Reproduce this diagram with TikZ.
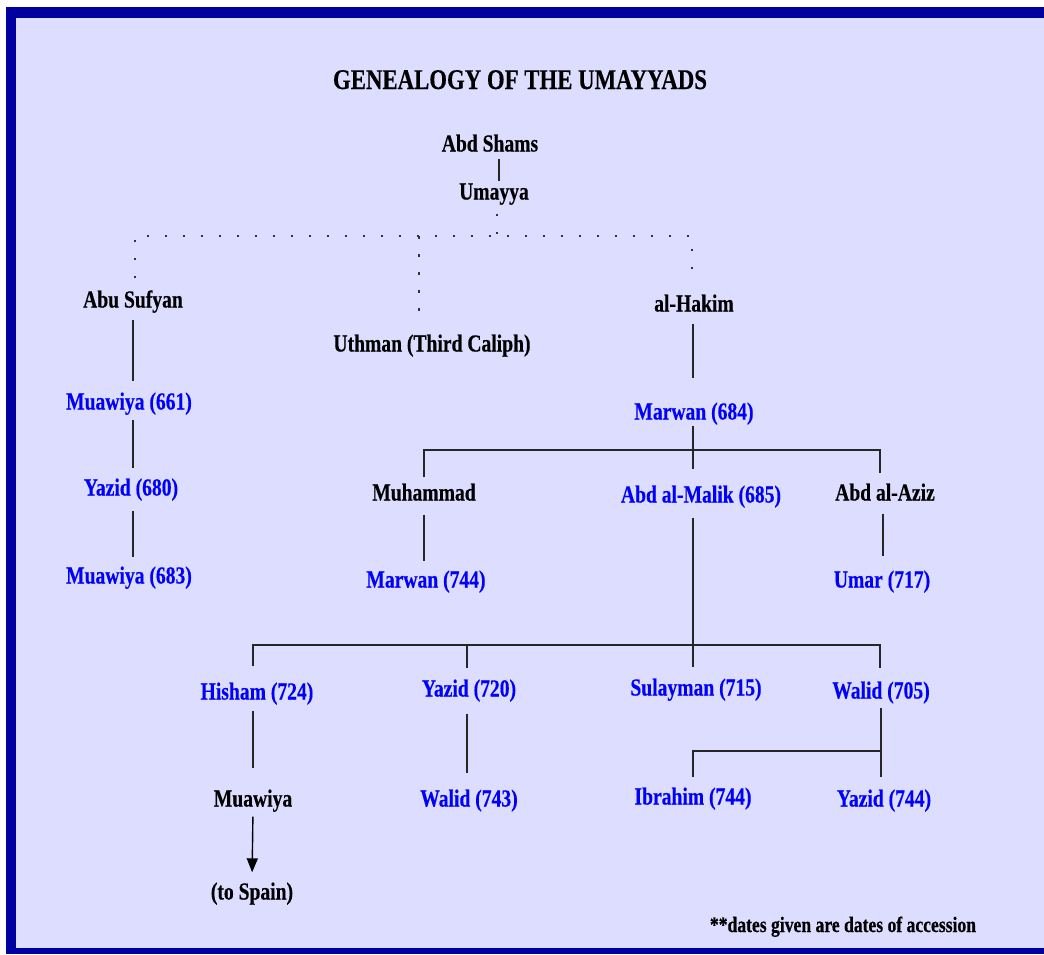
\documentclass[tikz,border=0pt]{standalone}
\usepackage{fontspec}
\setmainfont{Liberation Serif}[FakeStretch=0.8, BoldFeatures={FakeBold=0.4}]
\usetikzlibrary{arrows.meta}
\definecolor{bgc}{HTML}{DDDDFF}
\definecolor{framec}{HTML}{0000A0}
\definecolor{namec}{HTML}{0000FF}
\begin{document}
\begin{tikzpicture}[x=1pt,y=-1pt,
  lbl/.style={inner sep=0pt, text height=18pt, text depth=3pt,
              font=\fontsize{24.5}{26}\selectfont\bfseries},
  blk/.style={lbl,text=black},
  ruler/.style={lbl,text=namec},
  conn/.style={line width=1.4pt, draw=black!85},
  dotline/.style={line width=2.2pt, dash pattern=on 2.6pt off 15.4pt, draw=black!80},
]
\fill[white] (0,0) rectangle (1044,954);
\fill[framec] (6,7) rectangle (1044,954);
\fill[bgc] (16,18) rectangle (1044,948);
\useasboundingbox (0,0) rectangle (1044,954);

\node[inner sep=0pt, text height=20pt, text depth=6pt, font=\fontsize{28.5}{30}\selectfont\bfseries] (title) at (520,82) {GENEALOGY OF THE UMAYYADS};

\node[blk] (abdshams) at (490,144) {Abd Shams};
\node[blk] (umayya) at (494,192) {Umayya};
\node[blk] (abusufyan) at (133,300) {Abu Sufyan};
\node[blk] (uthman) at (432,344) {Uthman (Third Caliph)};
\node[blk] (alhakim) at (694,304) {al-Hakim};
\node[ruler] (mu661) at (129,402) {Muawiya (661)};
\node[ruler] (yazid680) at (131,488) {Yazid (680)};
\node[ruler] (mu683) at (129,576) {Muawiya (683)};
\node[ruler] (m684) at (694,412) {Marwan (684)};
\node[blk] (muhammad) at (424,493) {Muhammad};
\node[ruler] (abdmalik) at (701,495) {Abd al-Malik (685)};
\node[blk] (abdaziz) at (885,493) {Abd al-Aziz};
\node[ruler] (m744) at (426,580) {Marwan (744)};
\node[ruler] (umar) at (882,580) {Umar (717)};
\node[ruler] (hisham) at (257,692) {Hisham (724)};
\node[ruler] (yazid720) at (469,689) {Yazid (720)};
\node[ruler] (sulayman) at (696,688) {Sulayman (715)};
\node[ruler] (walid705) at (881,691) {Walid (705)};
\node[blk] (muawiya) at (253,799) {Muawiya};
\node[ruler] (walid743) at (469,799) {Walid (743)};
\node[ruler] (ibrahim) at (693,797) {Ibrahim (744)};
\node[ruler] (yazid744) at (884,799) {Yazid (744)};
\node[blk] (tospain) at (252,892) {(to Spain)};
\node[inner sep=0pt, text height=16pt, text depth=4pt, font=\fontsize{22}{24}\selectfont\bfseries] (note) at (843,926) {**dates given are dates of accession};

% Abd Shams -> Umayya
\draw[conn, shorten <=4pt] ([xshift=9pt]abdshams.south) -- ([xshift=5pt]umayya.north);

% dotted branches
\coordinate (dj) at (497,236);
\draw[dotline, shorten <=11pt] ([xshift=3pt]umayya.south) -- (dj);
\draw[dotline, shorten <=11pt, shorten >=10pt] ([xshift=2pt]abusufyan.north) |- (dj) -| ([xshift=-2pt]alhakim.north);
\draw[dotline, shorten >=13pt] ([xshift=-13pt]uthman.north |- dj) -- ([xshift=-13pt]uthman.north);

% Sufyanid line
\draw[conn, shorten <=9pt, shorten >=10pt] (abusufyan.south) -- (abusufyan.south |- mu661.north);
\draw[conn, shorten <=7pt, shorten >=9pt] (abusufyan.south |- mu661.south) -- (abusufyan.south |- yazid680.north);
\draw[conn, shorten <=12pt, shorten >=8pt] (abusufyan.south |- yazid680.south) -- (abusufyan.south |- mu683.north);

% al-Hakim -> Marwan
\draw[conn, shorten <=9pt, shorten >=23pt] ([xshift=-1pt]alhakim.south) -- ([xshift=-1pt]alhakim.south |- m684.north);

% Marwan's sons
\coordinate (j1) at (693,450);
\draw[conn, shorten <=3pt] ([xshift=-1pt]m684.south) -- (j1);
\draw[conn, shorten >=15pt] (j1) -- (j1 |- abdmalik.north);
\draw[conn, shorten <=5pt, shorten >=9pt] (muhammad.north) |- (j1) -| ([xshift=-5pt]abdaziz.north);
\draw[conn, shorten <=11pt, shorten >=8pt] (muhammad.south) -- (muhammad.south |- m744.north);
\draw[conn, shorten <=10pt, shorten >=13pt] ([xshift=-2pt]abdaziz.south) -- ([xshift=-2pt]abdaziz.south |- umar.north);

% Abd al-Malik's sons
\coordinate (j2) at (693,645);
\draw[conn, shorten <=12pt] (j2 |- abdmalik.south) -- (j2);
\draw[conn, shorten >=10pt] (j2) -- (j2 |- sulayman.north);
\draw[conn, shorten <=15pt, shorten >=12pt] ([xshift=-4pt]hisham.north) |- (j2) -| ([xshift=-1pt]walid705.north);
\draw[conn, shorten <=10pt] ([xshift=-2pt]yazid720.north) -- ([xshift=-2pt]yazid720.north |- j2);

% next generation
\draw[conn, shorten <=8pt, shorten >=20pt] (muawiya.south |- hisham.south) -- (muawiya.north);
\draw[conn, shorten <=14pt, shorten >=15pt] ([xshift=-2pt]yazid720.south) -- ([xshift=-2pt]yazid720.south |- walid743.north);
\coordinate (j3) at (881,751);
\draw[conn, shorten <=6pt, shorten >=11pt] (walid705.south) -- (walid705.south |- yazid744.north);
\draw[conn, shorten >=9pt] (j3) -| (ibrahim.north);

% to Spain
\draw[conn, draw=black, -{Triangle[width=11pt,length=14pt]}, shorten <=7pt, shorten >=9pt] (muawiya.south) -- (tospain.north);
\end{tikzpicture}
\end{document}
